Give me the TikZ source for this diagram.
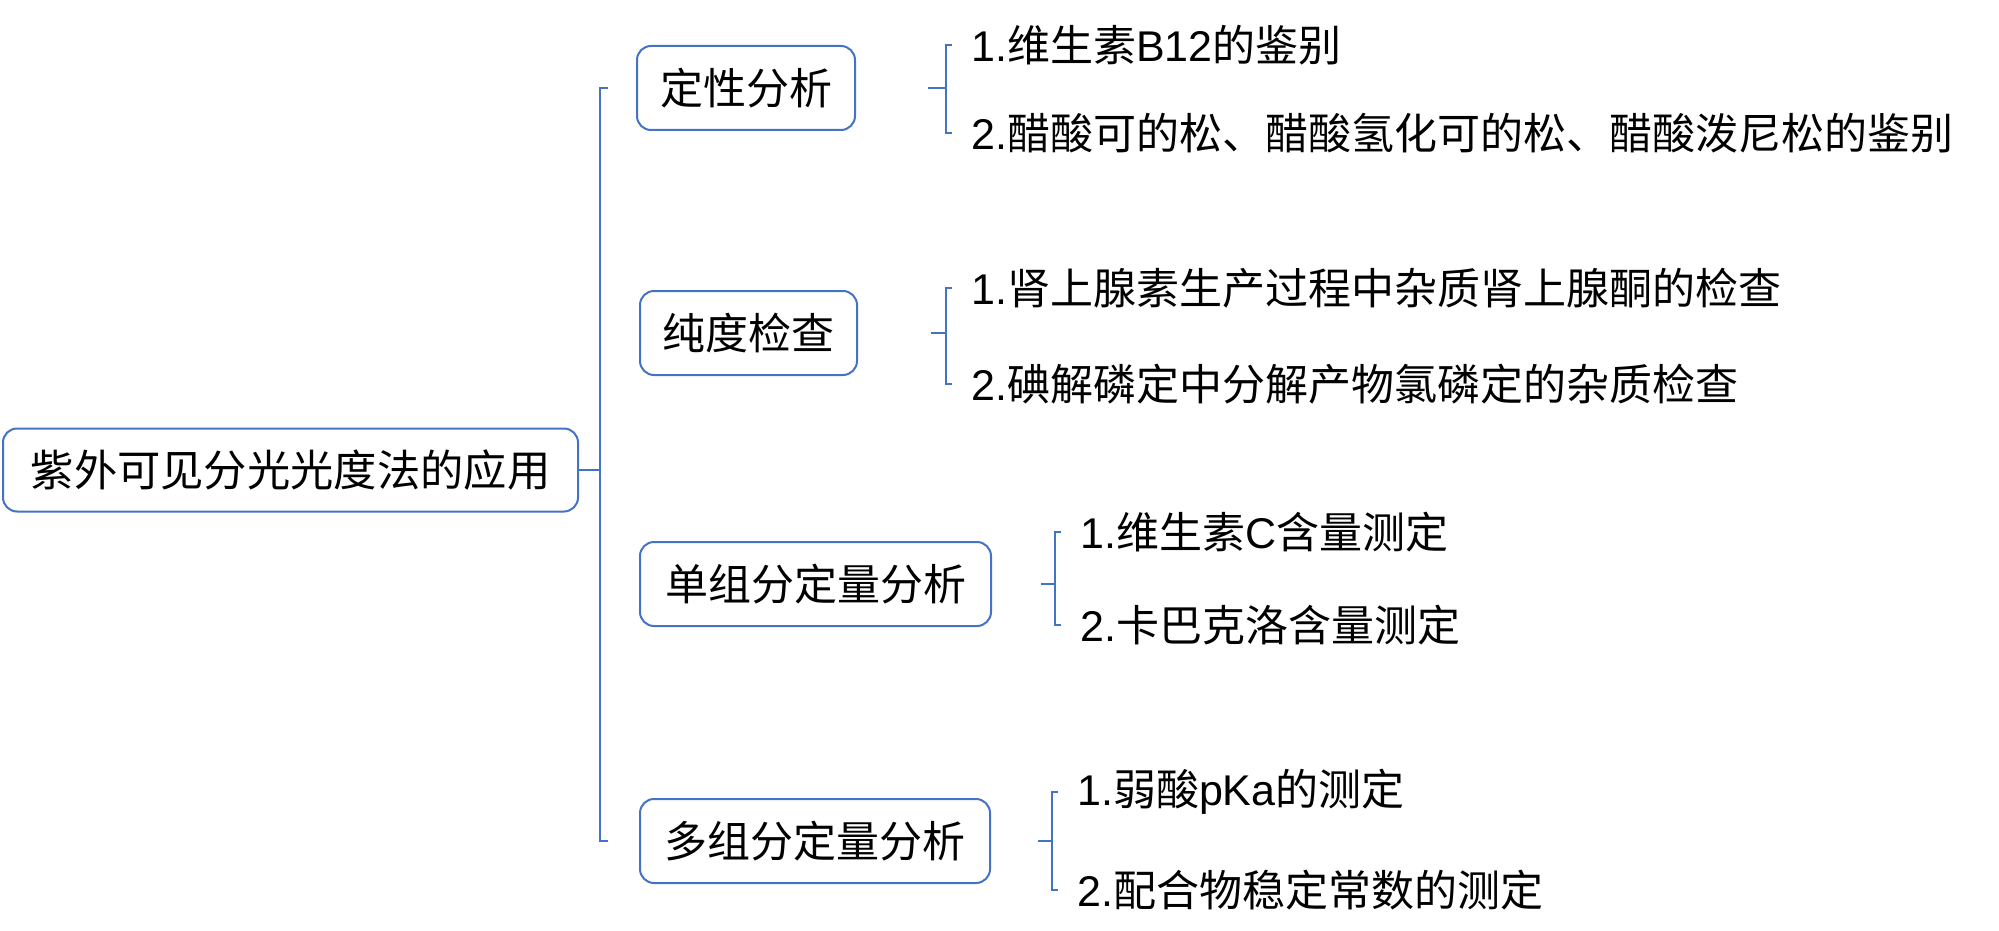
\documentclass[tikz,border=0pt]{standalone}
\usepackage{fontspec}
\setmainfont{Liberation Sans}
\newfontfamily\cjk{Noto Sans CJK SC}
\newcommand\zh[1]{{\cjk #1}}
\definecolor{lineblue}{RGB}{68,114,196}
\tikzset{
  mbox/.style={draw=lineblue, line width=2pt, rounded corners=14pt, minimum height=84pt, inner sep=0pt, font=\fontsize{43}{50}\selectfont},
  rootbox/.style={mbox, font=\fontsize{43.3}{52}\selectfont, minimum height=83pt},
  item/.style={anchor=west, inner sep=0pt, font=\fontsize{43}{50}\selectfont},
  conn/.style={draw=lineblue, line width=1.7pt},
}
\begin{document}
\begin{tikzpicture}[x=1pt,y=-1pt]
\useasboundingbox (0,0) rectangle (1999,931);
% root
\node[rootbox, minimum width=575pt] (root) at (290.5,470) {\zh{紫外可见分光光度法的应用}};
% category boxes
\node[mbox, minimum width=218pt] (b1) at (746,88) {\zh{定性分析}};
\node[mbox, minimum width=217pt] (b2) at (748.5,333) {\zh{纯度检查}};
\node[mbox, minimum width=351pt] (b3) at (815.5,584) {\zh{单组分定量分析}};
\node[mbox, minimum width=350pt] (b4) at (815,841) {\zh{多组分定量分析}};
% items
\node[item] (t11) at (971,45) {1.\zh{维生素}B12\zh{的鉴别}};
\node[item] (t12) at (971,133) {2.\zh{醋酸可的松、醋酸氢化可的松、醋酸泼尼松的鉴别}};
\node[item] (t21) at (971,288) {1.\zh{肾上腺素生产过程中杂质肾上腺酮的检查}};
\node[item] (t22) at (971,384) {2.\zh{碘解磷定中分解产物氯磷定的杂质检查}};
\node[item] (t31) at (1080,532) {1.\zh{维生素}C\zh{含量测定}};
\node[item] (t32) at (1080,625) {2.\zh{卡巴克洛含量测定}};
\node[item] (t41) at (1077,792) {1.\zh{弱酸}pKa\zh{的测定}};
\node[item] (t42) at (1077,890) {2.\zh{配合物稳定常数的测定}};
% main bracket
\coordinate (mb) at (600,470);
\draw[conn] (root.east) -- (mb);
\draw[conn] ([xshift=8pt]mb |- b1.center) -- (mb |- b1.center) -- (mb |- b4.center) -- ([xshift=8pt]mb |- b4.center);
% sub brackets
\foreach \b/\a/\c/\g in {b1/t11/t12/72, b2/t21/t22/73, b3/t31/t32/49, b4/t41/t42/47}{
  \coordinate (s\b) at ([xshift=\g pt]\b.east);
  \coordinate (v\b) at ([xshift=-25pt]\a.west);
  \draw[conn] (s\b) -- (v\b |- s\b);
  \draw[conn] ([xshift=6pt]v\b) -- (v\b) -- (v\b |- \c.west) -- ([xshift=6pt]v\b |- \c.west);
}
\end{tikzpicture}
\end{document}
